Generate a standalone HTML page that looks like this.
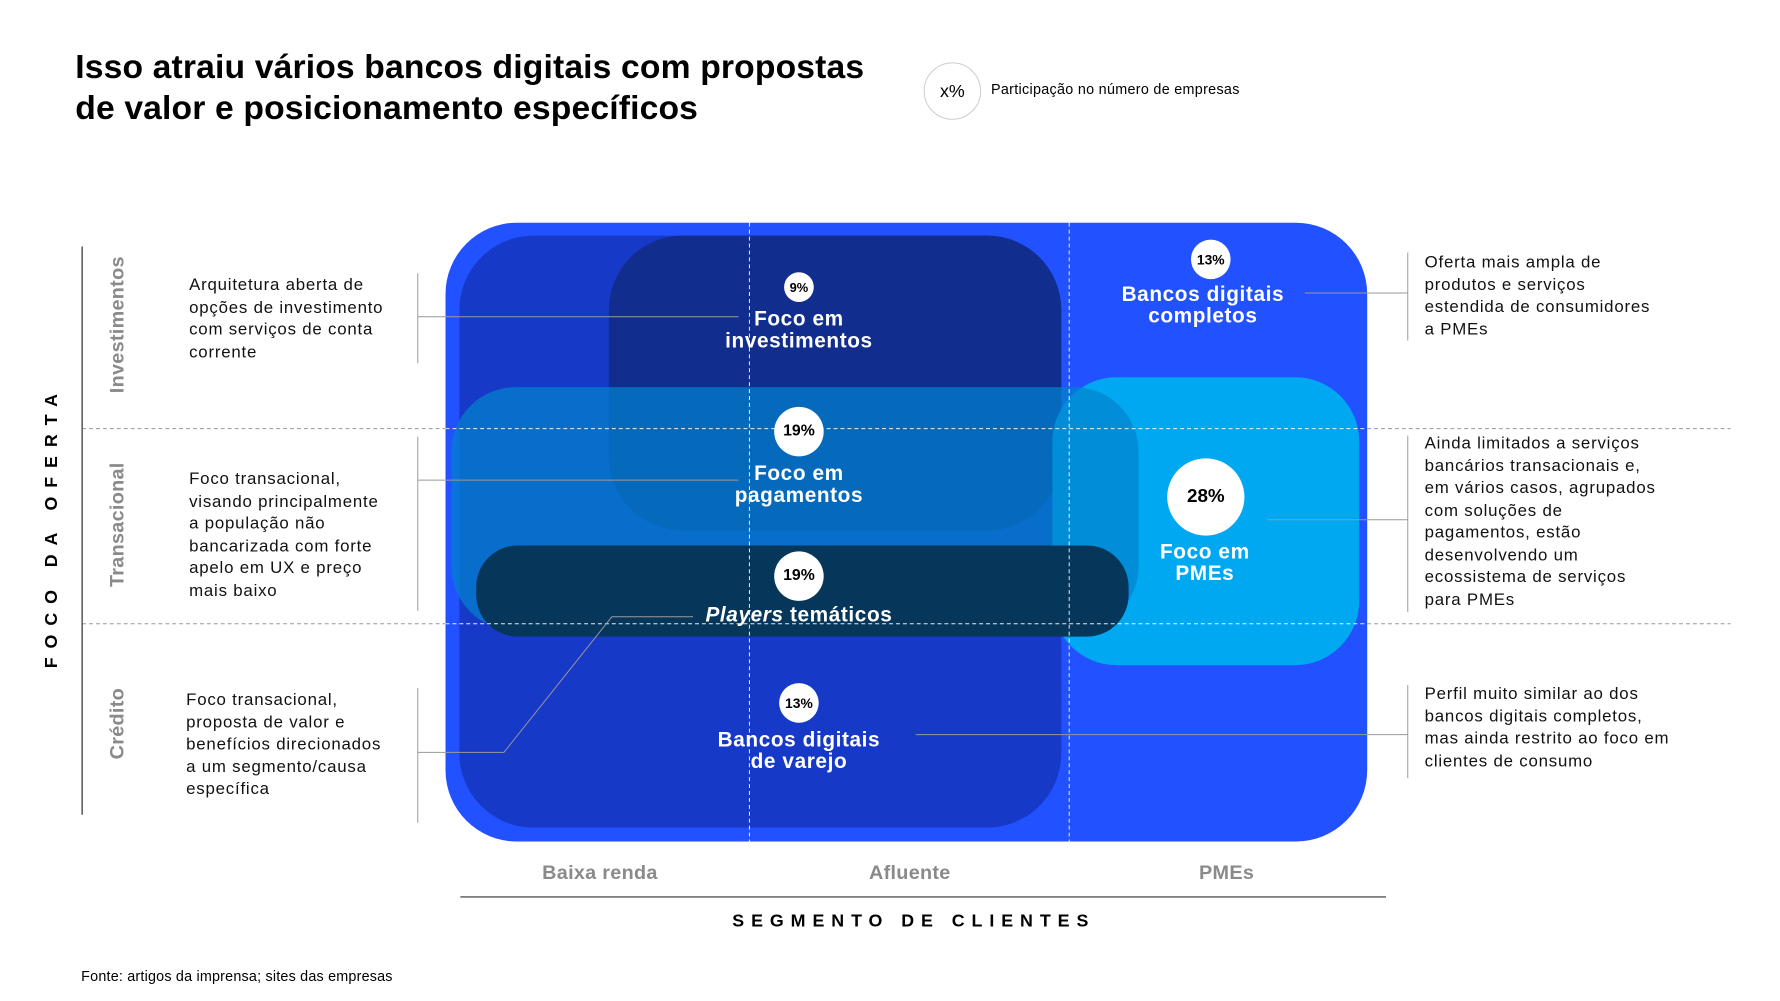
<!DOCTYPE html>
<html><head><meta charset="utf-8"><style>
*{margin:0;padding:0;box-sizing:border-box}
body{width:1780px;height:1001px;background:#fff;position:relative;overflow:hidden;font-family:"Liberation Sans",Arial,sans-serif;color:#000}
#w{position:absolute;left:0;top:0;width:1780px;height:1001px;transform:scale(0.99);transform-origin:0 0}
.a{position:absolute}
.r{position:absolute}
.lbl{position:absolute;color:#fff;font-weight:bold;font-size:21px;line-height:22px;text-align:center;transform:translateX(-50%);white-space:nowrap;letter-spacing:0.6px}
.c{position:absolute;background:#fff;border-radius:50%;color:#000;font-weight:bold;display:flex;align-items:center;justify-content:center;transform:translate(-50%,-50%)}
.t{position:absolute;font-size:17px;line-height:22.5px;color:#111;letter-spacing:0.8px;white-space:nowrap}
.row{position:absolute;color:#8a8a8a;font-weight:bold;font-size:20px;transform:translate(-50%,-50%) rotate(-90deg);white-space:nowrap;letter-spacing:0.3px}
.ax{position:absolute;color:#8a8a8a;font-weight:bold;font-size:20px;transform:translateX(-50%);white-space:nowrap;letter-spacing:0.3px}
</style></head><body><div id="w">
<div class="a" style="left:76px;top:48px;font-size:34px;font-weight:bold;line-height:41px;letter-spacing:0.15px;white-space:nowrap">Isso atraiu vários bancos digitais com propostas<br>de valor e posicionamento específicos</div>
<div class="c" style="left:962px;top:92px;width:58px;height:58px;border:1px solid #ccc;font-weight:normal;font-size:18px">x%</div>
<div class="a" style="left:1001px;top:83px;font-size:14.5px;letter-spacing:0.3px">Participação no número de empresas</div>

<div class="r" style="left:450px;top:225px;width:931px;height:625px;background:#2251ff;border-radius:72px"></div>
<div class="r" style="left:464px;top:238px;width:608px;height:598px;background:#1639c8;border-radius:75px"></div>
<div class="r" style="left:615px;top:238px;width:457px;height:298px;background:#112d8e;border-radius:75px"></div>
<div class="r" style="left:1063px;top:381px;width:310px;height:291px;background:#00a8f2;border-radius:65px"></div>
<div class="r" style="left:456px;top:391px;width:694px;height:246px;background:rgba(2,130,205,0.72);border-radius:65px"></div>
<div class="r" style="left:481px;top:551px;width:659px;height:92px;background:#06375a;border-radius:42px"></div>

<svg class="a" style="left:0;top:0" width="1780" height="1001">
<g stroke="#999" stroke-width="1" stroke-dasharray="4,3">
<line x1="83" y1="433" x2="450" y2="433"/><line x1="1381" y1="433" x2="1748" y2="433"/>
<line x1="83" y1="630" x2="450" y2="630"/><line x1="1381" y1="630" x2="1748" y2="630"/>
</g>
<g stroke="#fff" stroke-width="1" stroke-dasharray="4,3" opacity="0.9">
<line x1="450" y1="433" x2="1381" y2="433"/><line x1="450" y1="630" x2="1381" y2="630"/>
<line x1="757" y1="225" x2="757" y2="850"/><line x1="1080" y1="225" x2="1080" y2="850"/>
</g>
<g stroke="#555" stroke-width="1.5">
<line x1="83" y1="249" x2="83" y2="823"/>
<line x1="465" y1="906" x2="1400" y2="906"/>
</g>
<g stroke="#999" stroke-width="1" fill="none">
<line x1="422" y1="276" x2="422" y2="367"/><line x1="422" y1="441" x2="422" y2="617"/><line x1="422" y1="695" x2="422" y2="831"/>
<line x1="1422" y1="255" x2="1422" y2="344"/><line x1="1422" y1="440" x2="1422" y2="618"/><line x1="1422" y1="692" x2="1422" y2="786"/>
<line x1="422" y1="320" x2="746" y2="320"/>
<line x1="422" y1="485" x2="746" y2="485"/>
<polyline points="422,760 509,760 618,623 700,623"/>
<line x1="1318" y1="296" x2="1422" y2="296"/>
<line x1="1280" y1="525" x2="1422" y2="525"/>
<line x1="925" y1="742" x2="1422" y2="742"/>
</g>
</svg>

<div class="c" style="left:807px;top:290px;width:30px;height:30px;font-size:13px">9%</div>
<div class="c" style="left:807px;top:436px;width:50px;height:50px;font-size:16px">19%</div>
<div class="c" style="left:807px;top:582px;width:50px;height:50px;font-size:16px">19%</div>
<div class="c" style="left:807px;top:710px;width:40px;height:40px;font-size:14px">13%</div>
<div class="c" style="left:1223px;top:262px;width:40px;height:40px;font-size:14px">13%</div>
<div class="c" style="left:1218px;top:502px;width:78px;height:78px;font-size:19px">28%</div>

<div class="lbl" style="left:807px;top:312px">Foco em<br>investimentos</div>
<div class="lbl" style="left:807px;top:468px">Foco em<br>pagamentos</div>
<div class="lbl" style="left:807px;top:611px"><i>Players</i> temáticos</div>
<div class="lbl" style="left:807px;top:737px">Bancos digitais<br>de varejo</div>
<div class="lbl" style="left:1215px;top:287px">Bancos digitais<br>completos</div>
<div class="lbl" style="left:1217px;top:547px">Foco em<br>PMEs</div>

<div class="a" style="left:52px;top:532px;transform:translate(-50%,-50%) rotate(-90deg);font-weight:bold;font-size:18px;letter-spacing:9px;white-space:nowrap">FOCO DA OFERTA</div>
<div class="row" style="left:119px;top:328px">Investimentos</div>
<div class="row" style="left:119px;top:530px">Transacional</div>
<div class="row" style="left:119px;top:731px">Crédito</div>

<div class="t" style="left:191px;top:277px">Arquitetura aberta de<br>opções de investimento<br>com serviços de conta<br>corrente</div>
<div class="t" style="left:191px;top:473px">Foco transacional,<br>visando principalmente<br>a população não<br>bancarizada com forte<br>apelo em UX e preço<br>mais baixo</div>
<div class="t" style="left:188px;top:696px">Foco transacional,<br>proposta de valor e<br>benefícios direcionados<br>a um segmento/causa<br>específica</div>

<div class="t" style="left:1439px;top:254px">Oferta mais ampla de<br>produtos e serviços<br>estendida de consumidores<br>a PMEs</div>
<div class="t" style="left:1439px;top:437px">Ainda limitados a serviços<br>bancários transacionais e,<br>em vários casos, agrupados<br>com soluções de<br>pagamentos, estão<br>desenvolvendo um<br>ecossistema de serviços<br>para PMEs</div>
<div class="t" style="left:1439px;top:690px">Perfil muito similar ao dos<br>bancos digitais completos,<br>mas ainda restrito ao foco em<br>clientes de consumo</div>

<div class="ax" style="left:606px;top:871px">Baixa renda</div>
<div class="ax" style="left:919px;top:871px">Afluente</div>
<div class="ax" style="left:1239px;top:871px">PMEs</div>
<div class="a" style="left:923px;top:920px;transform:translateX(-50%);font-weight:bold;font-size:18px;letter-spacing:7px;white-space:nowrap">SEGMENTO DE CLIENTES</div>
<div class="a" style="left:82px;top:979px;font-size:14.5px;letter-spacing:0.2px">Fonte: artigos da imprensa; sites das empresas</div>
</div></body></html>
